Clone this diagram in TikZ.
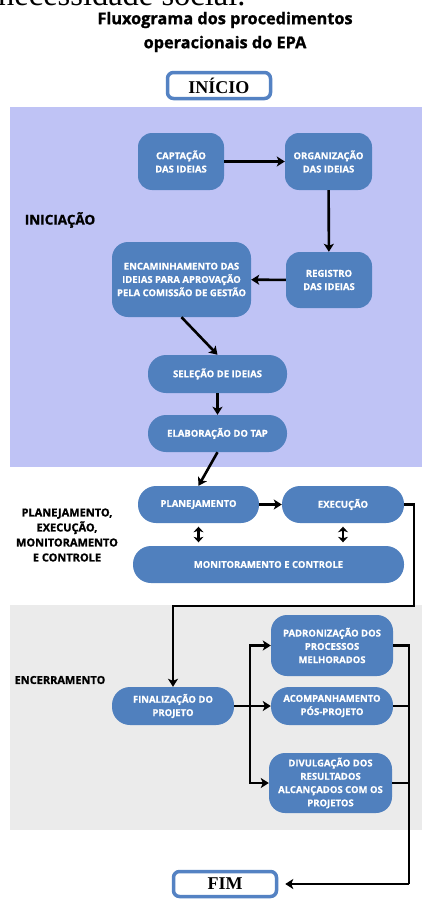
\documentclass[tikz,border=0pt]{standalone}
\usepackage{fontspec}
\setmainfont{Open Sans}
\newfontfamily\tnr{Liberation Serif}
\usetikzlibrary{arrows.meta}
\definecolor{boxblue}{RGB}{80,128,190}
\definecolor{edgeblue}{RGB}{84,130,195}
\definecolor{lav}{RGB}{191,195,245}
\definecolor{grayband}{RGB}{235,235,235}
\newcommand{\heavyA}{\bfseries\addfontfeatures{FakeBold=1.2}}
\newcommand{\heavyB}{\bfseries\addfontfeatures{FakeBold=0.6}}
\begin{document}
\begin{tikzpicture}[x=1pt,y=-1pt,
  box/.style={fill=boxblue, text=white, font=\heavyB\fontsize{9.5}{13.3}\selectfont,
    align=center, inner sep=0pt, rounded corners=14pt},
  pill/.style={box, minimum height=37pt, rounded corners=18pt},
  endbox/.style={draw=edgeblue, line width=3.5pt, fill=white, rounded corners=6pt,
    inner sep=0pt, font=\tnr\bfseries\fontsize{18}{18}\selectfont},
  sect/.style={font=\heavyA\fontsize{11}{15}\selectfont, align=center, text=black},
  ln/.style={line width=2.6pt},
  arr/.style={line width=2.6pt, -{Stealth[length=8pt,width=10pt,inset=2pt]}},
  dbl/.style={line width=2.8pt, {Stealth[length=5.5pt,width=10pt,inset=1.5pt]}-{Stealth[length=5.5pt,width=10pt,inset=1.5pt]}},
]
\useasboundingbox (0,0) rectangle (422,899);
\clip (0,0) rectangle (422,899);
\fill[white] (0,0) rectangle (422,899);

% cropped text at top
\node[anchor=base west, inner sep=0pt, font=\tnr\fontsize{32.5}{32}\selectfont] (crop) at (-2,6) {necessidade social.};

% title
\node[font=\heavyA\fontsize{16.3}{24}\selectfont, align=center] (title) at (225,32)
  {Fluxograma dos procedimentos\\operacionais do EPA};

% start
\node[endbox, minimum width=103pt, minimum height=26pt] (ini) at (219,85.5) {INÍCIO};

% bands
\fill[lav] (10,107) rectangle (422,467);
\fill[grayband] (10,605) rectangle (422,830);

% section labels
\node[sect, font=\heavyA\fontsize{13.5}{15}\selectfont] (s1) at (60,220) {INICIAÇÃO};
\node[sect] (s2) at (67,535) {PLANEJAMENTO,\\EXECUÇÃO,\\MONITORAMENTO\\E CONTROLE};
\node[sect] (s3) at (60,680) {ENCERRAMENTO};

% iniciacao nodes
\node[box, minimum width=86pt, minimum height=57pt] (cap) at (181,161.5) {CAPTAÇÃO\\DAS IDEIAS};
\node[box, minimum width=87pt, minimum height=57pt] (org) at (328.5,161.5) {ORGANIZAÇÃO\\DAS IDEIAS};
\node[box, minimum width=86pt, minimum height=56pt] (reg) at (329,280) {REGISTRO\\DAS IDEIAS};
\node[box, minimum width=139pt, minimum height=75pt, rounded corners=16pt] (enc) at (181.5,279.5)
  {ENCAMINHAMENTO DAS\\IDEIAS PARA APROVAÇÃO\\PELA COMISSÃO DE GESTÃO};
\node[pill, minimum width=139pt, minimum height=38pt] (sel) at (217.5,374) {SELEÇÃO DE IDEIAS};
\node[pill, minimum width=139pt] (ela) at (217.5,433.5) {ELABORAÇÃO DO TAP};

% planning nodes
\node[pill, minimum width=121pt] (pla) at (198.5,504.5) {PLANEJAMENTO};
\node[pill, minimum width=122pt] (exe) at (343,504.5) {EXECUÇÃO};
\node[pill, minimum width=271pt] (mon) at (268.5,564.5) {MONITORAMENTO E CONTROLE};

% closing nodes
\node[pill, minimum width=122pt, minimum height=38pt] (fin) at (173,706) {FINALIZAÇÃO DO\\PROJETO};
\node[box, minimum width=122pt, minimum height=61pt, rounded corners=16pt] (pad) at (332,645.5)
  {PADRONIZAÇÃO DOS\\PROCESSOS\\MELHORADOS};
\node[pill, minimum width=122pt, minimum height=38pt] (aco) at (332,706) {ACOMPANHAMENTO\\PÓS-PROJETO};
\node[box, minimum width=123pt, minimum height=60pt, rounded corners=16pt] (div) at (330.5,783)
  {DIVULGAÇÃO DOS\\RESULTADOS\\ALCANÇADOS COM OS\\PROJETOS};

% end
\node[endbox, minimum width=103pt, minimum height=25pt] (fim) at (225,884) {FIM};

% connectors
\draw[arr] (cap) -- (org);
\draw[arr] (org) -- (reg);
\draw[arr] (reg) -- (enc);
\draw[arr] (enc.south) -- (sel.north);
\draw[arr] (sel) -- (ela);
\draw[arr] (ela.south) -- (pla.north);
\draw[arr] (pla) -- (exe);

\coordinate (pm) at (pla.south |- mon.north);
\coordinate (em) at (exe.south |- mon.north);
\draw[dbl] ([yshift=-3.5pt]pla.south) -- ([yshift=3.5pt]pm);
\draw[dbl] ([yshift=-3.5pt]exe.south) -- ([yshift=3.5pt]em);

\coordinate (c1) at (414,606);
\draw[arr] (exe.east) -| (c1) -| (fin.north);

\coordinate (bx) at (250,706);
\draw[ln] (fin.east) -- (bx);
\draw[ln, line cap=rect] (bx |- pad.west) -- (bx |- div.west);
\draw[arr] (bx |- pad.west) -- (pad.west);
\draw[arr] (bx) -- (aco.west);
\draw[arr] (bx |- div.west) -- (div.west);

\coordinate (rx) at (409,884);
\draw[ln] (pad.east) -| (rx);
\draw[ln] (aco.east) -- (rx |- aco.east);
\draw[ln] (div.east) -- (rx |- div.east);
\draw[arr, shorten >=7pt] (rx) -- (fim.east);
\end{tikzpicture}
\end{document}
